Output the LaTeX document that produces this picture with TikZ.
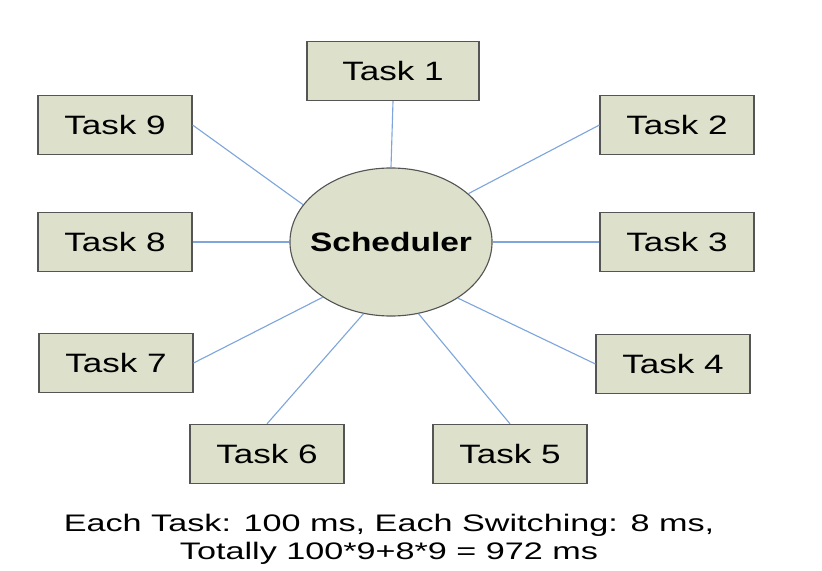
\documentclass[tikz,border=0pt]{standalone}
\usepackage{fontspec}
\setmainfont{Liberation Sans}
\newfontfamily\taskfont[FakeStretch=1.32]{Liberation Sans}
\newfontfamily\schedfont[FakeStretch=1.26]{Liberation Sans}
\newfontfamily\notefont[FakeStretch=1.43]{Liberation Sans}
\usepackage{tikz}
\usetikzlibrary{shapes.geometric, positioning, calc}

\definecolor{taskfill}{HTML}{DDE1CB}
\definecolor{taskline}{HTML}{555555}
\definecolor{linkblue}{HTML}{7FA6DC}

\begin{document}
\begin{tikzpicture}[
    x=0.025cm, y=-0.025cm,
    task/.style={rectangle, draw=taskline, fill=taskfill, thick, minimum width=3.85cm, minimum height=1.48cm, align=center, font=\taskfont\fontsize{18.9}{22}\selectfont},
    sched/.style={ellipse, draw=taskline, fill=taskfill, thick, inner xsep=-10pt, minimum width=5.05cm, minimum height=3.7cm, font=\schedfont\fontsize{18.9}{22}\selectfont\bfseries},
    link/.style={linkblue, line width=0.8pt},
    note/.style={align=center, font=\notefont\fontsize{17}{19.9}\selectfont},
  ]
    \useasboundingbox (0,0) rectangle (822,571);
    \node[sched] (S) at (391,242) {Scheduler};
    \node[task, minimum width=4.3cm] (T1) at (393,71) {Task 1};
    \node[task] (T2) at (677,125) {Task 2};
    \node[task] (T3) at (677,242) {Task 3};
    \node[task] (T4) at (673,364) {Task 4};
    \node[task] (T5) at (510,454) {Task 5};
    \node[task] (T6) at (267,454) {Task 6};
    \node[task] (T7) at (116,363) {Task 7};
    \node[task] (T8) at (115,242) {Task 8};
    \node[task] (T9) at (115,125) {Task 9};
    \draw[link] (T1.south) -- (S.north);
    \draw[link] (T2.west) -- (S.32);
    \draw[link] (T3.west) -- (S.east);
    \draw[link] (T4.west) -- (S.320);
    \draw[link] (T5.north) -- (S.291);
    \draw[link] (T6.north) -- (S.249);
    \draw[link] (T7.east) -- (S.219);
    \draw[link] (T8.east) -- (S.west);
    \draw[link] (T9.east) -- (S.157);
    \node[note] (N) at (389,539) {Each Task: 100 ms, Each Switching: 8 ms,\\Totally 100*9+8*9 = 972 ms};
  \end{tikzpicture}
\end{document}
